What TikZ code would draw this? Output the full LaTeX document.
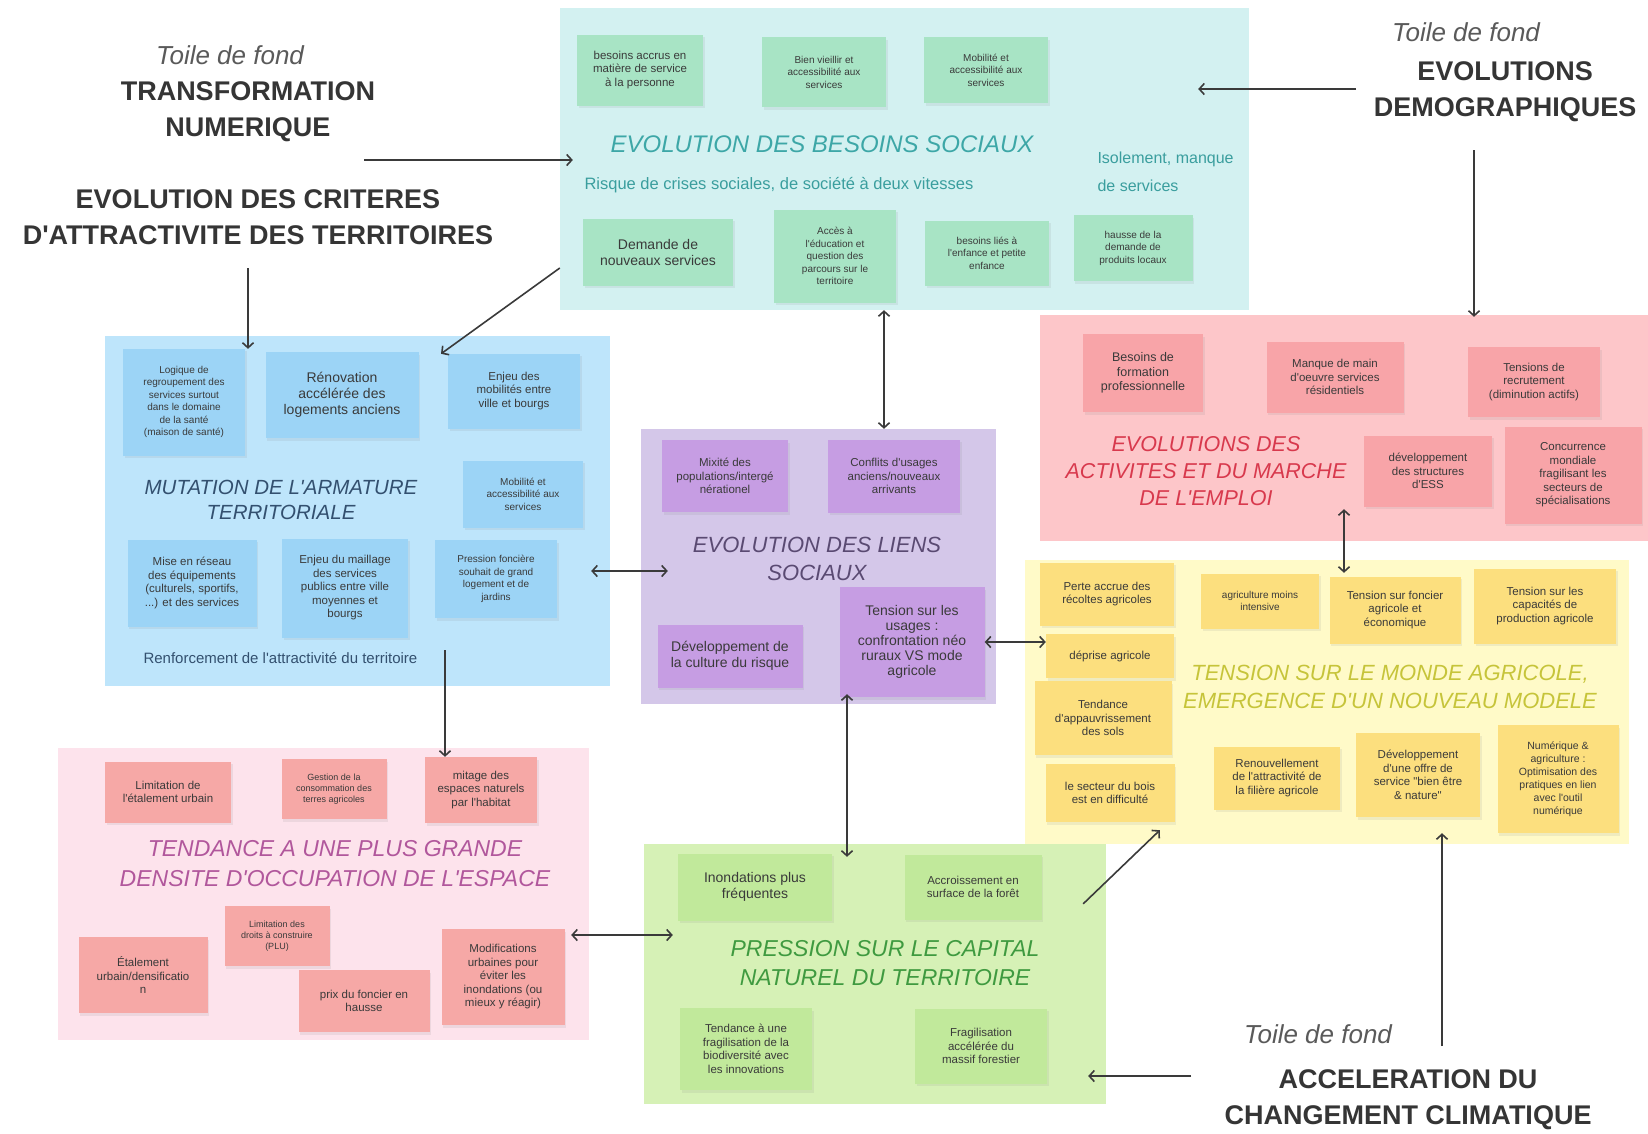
\documentclass[tikz,border=0pt]{standalone}
\usepackage{fontspec}
\setmainfont{Liberation Sans}[Ligatures=TeXOff]
\usepackage{xcolor}
\usepackage{tikz}
\usetikzlibrary{shadows, shapes, arrows.meta, positioning}

\definecolor{tealbg}{HTML}{D3F1F1}
\definecolor{tealcard}{HTML}{A8E4C5}
\definecolor{tealtitle}{HTML}{3DA7A7}
\definecolor{tealtxt}{HTML}{3A9E9E}
\definecolor{bluebg}{HTML}{BEE5FB}
\definecolor{bluecard}{HTML}{9CD4F6}
\definecolor{bluetitle}{HTML}{33506F}
\definecolor{purplebg}{HTML}{D4C7E9}
\definecolor{purplecard}{HTML}{C69DE3}
\definecolor{purpletitle}{HTML}{5A4A72}
\definecolor{redbg}{HTML}{FDC6C9}
\definecolor{redcard}{HTML}{F8A4A8}
\definecolor{redtitle}{HTML}{D8394D}
\definecolor{yellowbg}{HTML}{FFFAC8}
\definecolor{yellowcard}{HTML}{FCDF7E}
\definecolor{yellowtitle}{HTML}{C6C43A}
\definecolor{pinkbg}{HTML}{FDE3EC}
\definecolor{pinkcard}{HTML}{F6A8A6}
\definecolor{pinktitle}{HTML}{B1579C}
\definecolor{greenbg}{HTML}{D6F1B6}
\definecolor{greencard}{HTML}{C1E99B}
\definecolor{greentitle}{HTML}{3F9A40}
\definecolor{cardtext}{HTML}{3A3A3A}
\definecolor{headgray}{HTML}{353535}
\definecolor{toilegray}{HTML}{5A5A5A}
\definecolor{arrowgray}{HTML}{3A3A3A}

\tikzstyle{zone} = [rectangle, inner sep=0pt]
\tikzstyle{card} = [rectangle, align=center, inner sep=2pt, text=cardtext, drop shadow={opacity=0.12, shadow xshift=1.5pt, shadow yshift=-2.5pt}]
\tikzstyle{tcard} = [card, fill=tealcard]
\tikzstyle{bcard} = [card, fill=bluecard]
\tikzstyle{vcard} = [card, fill=purplecard]
\tikzstyle{rcard} = [card, fill=redcard]
\tikzstyle{ycard} = [card, fill=yellowcard]
\tikzstyle{pcard} = [card, fill=pinkcard]
\tikzstyle{gcard} = [card, fill=greencard]
\tikzstyle{ftiny} = [font=\fontsize{9}{11}\selectfont]
\tikzstyle{fsmall} = [font=\fontsize{10}{12.5}\selectfont]
\tikzstyle{fmed} = [font=\fontsize{11.5}{13.5}\selectfont]
\tikzstyle{fbig} = [font=\fontsize{14}{16}\selectfont]
\tikzstyle{title} = [align=center, font=\itshape\fontsize{22}{28}\selectfont]
\tikzstyle{head} = [align=center, text=headgray, font=\bfseries\fontsize{27}{36}\selectfont]
\tikzstyle{toile} = [text=toilegray, font=\itshape\fontsize{26}{30}\selectfont]
\tikzstyle{link} = [draw=arrowgray, -{Straight Barb[length=5pt,width=11pt]}, line width=1.6pt]
\tikzstyle{both} = [draw=arrowgray, {Straight Barb[length=5pt,width=11pt]}-{Straight Barb[length=5pt,width=11pt]}, line width=1.6pt]
\tikzset{wh/.style 2 args={minimum width=#1pt, minimum height=#2pt}}

\begin{document}
\begin{tikzpicture}[x=1pt, y=-1pt]
  \fill[white] (0,0) rectangle (1648,1133);
  \useasboundingbox (0,0) rectangle (1648,1133);

  % zones
  \node (besoins) [zone, fill=tealbg, wh={689}{302}] at (904.5,159) {};
  \node (armature) [zone, fill=bluebg, wh={505}{350}] at (357.5,511) {};
  \node (liens) [zone, fill=purplebg, wh={355}{275}] at (818.5,566.5) {};
  \node (emploi) [zone, fill=redbg, wh={608}{226}] at (1344,428) {};
  \node (agricole) [zone, fill=yellowbg, wh={604}{284}] at (1327,702) {};
  \node (densite) [zone, fill=pinkbg, wh={531}{292}] at (323.5,894) {};
  \node (capital) [zone, fill=greenbg, wh={462}{260}] at (875,974) {};

  % zone titles
  \node (tbesoins) [title, text=tealtitle, font=\itshape\fontsize{24}{28}\selectfont] at (822,144) {EVOLUTION DES BESOINS SOCIAUX};
  \node (tarmature) [title, text=bluetitle, font=\itshape\fontsize{20.5}{25}\selectfont] at (281,499.5) {MUTATION DE L'ARMATURE\\TERRITORIALE};
  \node (tliens) [title, text=purpletitle] at (817,559) {EVOLUTION DES LIENS\\SOCIAUX};
  \node (temploi) [title, text=redtitle, font=\itshape\fontsize{21.5}{27}\selectfont] at (1206,471) {EVOLUTIONS DES\\ACTIVITES ET DU MARCHE\\DE L'EMPLOI};
  \node (tagricole) [title, text=yellowtitle] at (1390,687) {TENSION SUR LE MONDE AGRICOLE,\\EMERGENCE D'UN NOUVEAU MODELE};
  \node (tdensite) [title, text=pinktitle, font=\itshape\fontsize{23}{30}\selectfont] at (335,864) {TENDANCE A UNE PLUS GRANDE\\DENSITE D'OCCUPATION DE L'ESPACE};
  \node (tcapital) [title, text=greentitle, font=\itshape\fontsize{23}{29}\selectfont] at (885,963.5) {PRESSION SUR LE CAPITAL\\NATUREL DU TERRITOIRE};

  % headers
  \node (toileA) [toile] at (230,55) {Toile de fond};
  \node (numerique) [head] at (248,112) {TRANSFORMATION\\NUMERIQUE};
  \node (criteres) [head] at (258,217) {EVOLUTION DES CRITERES\\D'ATTRACTIVITE DES TERRITOIRES};
  \node (toileB) [toile] at (1466,32) {Toile de fond};
  \node (demo) [head] at (1505,92) {EVOLUTIONS\\DEMOGRAPHIQUES};
  \node (toileC) [toile] at (1318,1034) {Toile de fond};
  \node (climat) [head] at (1408,1100) {ACCELERATION DU\\CHANGEMENT CLIMATIQUE};

  % besoins sociaux
  \node (accrus) [tcard, fmed, wh={126}{71}] at (640,70) {besoins accrus en\\matière de service\\à la personne};
  \node (vieillir) [tcard, fsmall, wh={124}{70}] at (824,72) {Bien vieillir et\\accessibilité aux\\services};
  \node (mobiliteA) [tcard, fsmall, wh={124}{66}] at (986,70) {Mobilité et\\accessibilité aux\\services};
  \node (risque) [anchor=west, text=tealtxt, font=\fontsize{16.5}{19}\selectfont] at (581,185) {Risque de crises sociales, de société à deux vitesses};
  \node (isolement) [anchor=west, align=left, text=tealtxt, font=\fontsize{16}{28}\selectfont] at (1094,172) {Isolement, manque\\de services};
  \node (demande) [tcard, fbig, wh={150}{67}] at (658,252) {Demande de\\nouveaux services};
  \node (acces) [tcard, fsmall, wh={122}{93}] at (835,256) {Accès à\\l'éducation et\\question des\\parcours sur le\\territoire};
  \node (enfance) [tcard, fsmall, wh={124}{65}] at (987,253) {besoins liés à\\l'enfance et petite\\enfance};
  \node (locaux) [tcard, fsmall, wh={119}{66}] at (1133,248) {hausse de la\\demande de\\produits locaux};

  % armature territoriale
  \node (sante) [bcard, fsmall, wh={122}{107}] at (184,402) {Logique de\\regroupement des\\services surtout\\dans le domaine\\de la santé\\(maison de santé)};
  \node (renovation) [bcard, fbig, wh={153}{86}] at (342,395) {Rénovation\\accélérée des\\logements anciens};
  \node (mobilites) [bcard, fmed, wh={132}{75}] at (514,391) {Enjeu des\\mobilités entre\\ville et bourgs};
  \node (mobiliteB) [bcard, fsmall, wh={120}{67}] at (523,494) {Mobilité et\\accessibilité aux\\services};
  \node (reseau) [bcard, fmed, wh={129}{87}] at (192,583) {Mise en réseau\\des équipements\\(culturels, sportifs,\\...) et des services};
  \node (maillage) [bcard, fmed, wh={126}{99}] at (345,588) {Enjeu du maillage\\des services\\publics entre ville\\moyennes et\\bourgs};
  \node (fonciere) [bcard, fsmall, wh={122}{78}] at (496,579) {Pression foncière\\souhait de grand\\logement et de\\jardins};
  \node (renfort) [anchor=west, text=bluetitle, font=\fontsize{15}{18}\selectfont] at (140,658) {Renforcement de l'attractivité du territoire};

  % liens sociaux
  \node (mixite) [vcard, fmed, wh={126}{72}] at (725,476) {Mixité des\\populations/intergé\\nérationel};
  \node (conflits) [vcard, fmed, wh={132}{73}] at (894,476) {Conflits d'usages\\anciens/nouveaux\\arrivants};
  \node (culture) [vcard, fbig, wh={145}{63}] at (730,656) {Développement de\\la culture du risque};
  \node (tension) [vcard, font=\fontsize{14}{15}\selectfont, wh={145}{110}] at (912,642) {Tension sur les\\usages :\\confrontation néo\\ruraux VS mode\\agricole};

  % activites et emploi
  \node (formation) [rcard, font=\fontsize{12.5}{14.5}\selectfont, wh={120}{78}] at (1143,373) {Besoins de\\formation\\professionnelle};
  \node (maindoeuvre) [rcard, fmed, wh={137}{71}] at (1335,377) {Manque de main\\d'oeuvre services\\résidentiels};
  \node (recrutement) [rcard, fmed, wh={132}{70}] at (1534,382) {Tensions de\\recrutement\\(diminution actifs)};
  \node (ess) [rcard, fmed, wh={128}{71}] at (1428,471) {développement\\des structures\\d'ESS};
  \node (concurrence) [rcard, fmed, wh={137}{97}] at (1573,475) {Concurrence\\mondiale\\fragilisant les\\secteurs de\\spécialisations};

  % monde agricole
  \node (perte) [ycard, fmed, wh={134}{63}] at (1107,594) {Perte accrue des\\récoltes agricoles};
  \node (intensive) [ycard, fsmall, wh={118}{55}] at (1260,601) {agriculture moins\\intensive};
  \node (foncier) [ycard, fmed, wh={131}{67}] at (1395,610) {Tension sur foncier\\agricole et\\économique};
  \node (capacites) [ycard, fmed, wh={142}{75}] at (1545,606) {Tension sur les\\capacités de\\production agricole};
  \node (deprise) [ycard, fmed, wh={128}{44}] at (1110,656) {déprise agricole};
  \node (appauvr) [ycard, fmed, wh={137}{74}] at (1103,718) {Tendance\\d'appauvrissement\\des sols};
  \node (bois) [ycard, fmed, wh={129}{58}] at (1110,793) {le secteur du bois\\est en difficulté};
  \node (renouv) [ycard, fmed, wh={126}{63}] at (1277,778) {Renouvellement\\de l'attractivité de\\la filière agricole};
  \node (offre) [ycard, fmed, wh={124}{84}] at (1418,775) {Développement\\d'une offre de\\service "bien être\\\& nature"};
  \node (numagri) [ycard, font=\fontsize{10.5}{13}\selectfont, wh={121}{108}] at (1558,779) {Numérique \&\\agriculture :\\Optimisation des\\pratiques en lien\\avec l'outil\\numérique};

  % densite
  \node (limitation) [pcard, fmed, wh={126}{61}] at (168,792) {Limitation de\\l'étalement urbain};
  \node (gestion) [pcard, ftiny, wh={105}{60}] at (334,789) {Gestion de la\\consommation des\\terres agricoles};
  \node (mitage) [pcard, fmed, wh={112}{66}] at (481,790) {mitage des\\espaces naturels\\par l'habitat};
  \node (droits) [pcard, ftiny, wh={105}{60}] at (277,936) {Limitation des\\droits à construire\\(PLU)};
  \node (etalement) [pcard, fmed, wh={129}{76}] at (143,975) {Étalement\\urbain/densificatio\\n};
  \node (prix) [pcard, fmed, wh={131}{62}] at (364,1001) {prix du foncier en\\hausse};
  \node (modifs) [pcard, fmed, wh={123}{96}] at (503,977) {Modifications\\urbaines pour\\éviter les\\inondations (ou\\mieux y réagir)};

  % capital naturel
  \node (inondations) [gcard, fbig, wh={154}{67}] at (755,887) {Inondations plus\\fréquentes};
  \node (accroissement) [gcard, fmed, wh={137}{65}] at (973,887) {Accroissement en\\surface de la forêt};
  \node (biodiv) [gcard, fmed, wh={132}{82}] at (746,1049) {Tendance à une\\fragilisation de la\\biodiversité avec\\les innovations};
  \node (fragil) [gcard, fmed, wh={132}{75}] at (981,1046) {Fragilisation\\accélérée du\\massif forestier};

  % connectors
  \coordinate (numtail) at (364,160);
  \coordinate (crittail) at (248,268);
  \coordinate (demotail) at (1356,89);
  \coordinate (demodown) at (1474,150);
  \coordinate (climup) at (1442,1046);
  \coordinate (climleft) at (1191,1076);

  \draw [link, shorten >=-13pt] (numtail) -- (besoins.west |- numtail);
  \draw [link, shorten >=-13pt] (crittail) -- (armature.north -| crittail);
  \draw [link] ([yshift=-109pt]besoins.west) -- ([xshift=83.5pt,yshift=-18pt]armature.north);
  \draw [link, shorten >=-51pt] (demotail) -- (besoins.east |- demotail);
  \draw [link, shorten >=-2pt] (demodown) -- (emploi.north -| demodown);
  \draw [link, shorten >=-11pt] (climup) -- (agricole.south -| climup);
  \draw [link, shorten >=-18pt] (climleft) -- (capital.east |- climleft);
  \draw [both] ([xshift=-20.5pt]besoins.south) -- ([xshift=65.5pt]liens.north);
  \draw [both, shorten <=-19pt, shorten >=-27pt] ([yshift=-60pt]armature.east) -- ([yshift=-4.5pt]liens.west);
  \draw [both] (tension.east) -- (tension.east -| deprise.west);
  \draw [both, shorten <=-10pt, shorten >=-13pt] ([xshift=28.5pt]liens.south) -- ([xshift=-28pt]capital.north);
  \draw [both, shorten <=-32pt, shorten >=-13pt] (emploi.south) -- ([xshift=17pt]agricole.north);
  \draw [both, shorten <=-18pt, shorten >=-29pt] ([yshift=-41pt]densite.east) -- ([yshift=39pt]capital.west);
  \draw [link] ([xshift=-23pt,yshift=-60pt]capital.north east) -- ([xshift=135pt,yshift=14pt]agricole.south west);
  \draw [link, shorten <=-36pt, shorten >=-9pt] ([xshift=87.5pt]armature.south) -- ([xshift=121.5pt]densite.north);
\end{tikzpicture}
\end{document}
